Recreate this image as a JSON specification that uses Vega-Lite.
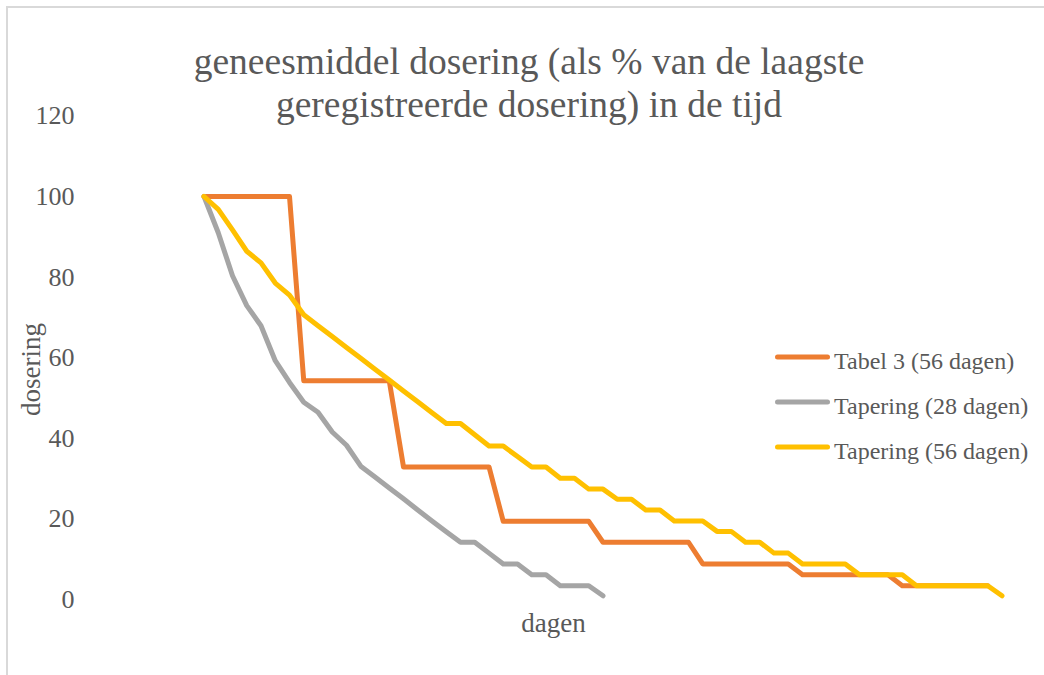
{
  "$schema": "https://vega.github.io/schema/vega-lite/v6.json",
  "width": 1044,
  "height": 675,
  "padding": {"left": 7, "top": 7, "right": 0, "bottom": 0},
  "background": "white",
  "config": {
    "font": "Liberation Serif",
    "view": {"stroke": "#d9d9d9", "strokeWidth": 2}
  },
  "title": {
    "text": ["geneesmiddel dosering (als % van de laagste", "geregistreerde dosering) in de tijd"],
    "fontSize": 37.5,
    "lineHeight": 43,
    "fontWeight": "normal",
    "color": "#595959",
    "font": "Liberation Serif",
    "anchor": "middle",
    "frame": "group",
    "baseline": "alphabetic",
    "offset": -147
  },
  "data": {
    "values": [
      {"dag": 0, "reeks": "Tabel 3 (56 dagen)", "dosering": 100},
      {"dag": 1, "reeks": "Tabel 3 (56 dagen)", "dosering": 100},
      {"dag": 2, "reeks": "Tabel 3 (56 dagen)", "dosering": 100},
      {"dag": 3, "reeks": "Tabel 3 (56 dagen)", "dosering": 100},
      {"dag": 4, "reeks": "Tabel 3 (56 dagen)", "dosering": 100},
      {"dag": 5, "reeks": "Tabel 3 (56 dagen)", "dosering": 100},
      {"dag": 6, "reeks": "Tabel 3 (56 dagen)", "dosering": 100},
      {"dag": 7, "reeks": "Tabel 3 (56 dagen)", "dosering": 54.2},
      {"dag": 8, "reeks": "Tabel 3 (56 dagen)", "dosering": 54.2},
      {"dag": 9, "reeks": "Tabel 3 (56 dagen)", "dosering": 54.2},
      {"dag": 10, "reeks": "Tabel 3 (56 dagen)", "dosering": 54.2},
      {"dag": 11, "reeks": "Tabel 3 (56 dagen)", "dosering": 54.2},
      {"dag": 12, "reeks": "Tabel 3 (56 dagen)", "dosering": 54.2},
      {"dag": 13, "reeks": "Tabel 3 (56 dagen)", "dosering": 54.2},
      {"dag": 14, "reeks": "Tabel 3 (56 dagen)", "dosering": 32.8},
      {"dag": 15, "reeks": "Tabel 3 (56 dagen)", "dosering": 32.8},
      {"dag": 16, "reeks": "Tabel 3 (56 dagen)", "dosering": 32.8},
      {"dag": 17, "reeks": "Tabel 3 (56 dagen)", "dosering": 32.8},
      {"dag": 18, "reeks": "Tabel 3 (56 dagen)", "dosering": 32.8},
      {"dag": 19, "reeks": "Tabel 3 (56 dagen)", "dosering": 32.8},
      {"dag": 20, "reeks": "Tabel 3 (56 dagen)", "dosering": 32.8},
      {"dag": 21, "reeks": "Tabel 3 (56 dagen)", "dosering": 19.3},
      {"dag": 22, "reeks": "Tabel 3 (56 dagen)", "dosering": 19.3},
      {"dag": 23, "reeks": "Tabel 3 (56 dagen)", "dosering": 19.3},
      {"dag": 24, "reeks": "Tabel 3 (56 dagen)", "dosering": 19.3},
      {"dag": 25, "reeks": "Tabel 3 (56 dagen)", "dosering": 19.3},
      {"dag": 26, "reeks": "Tabel 3 (56 dagen)", "dosering": 19.3},
      {"dag": 27, "reeks": "Tabel 3 (56 dagen)", "dosering": 19.3},
      {"dag": 28, "reeks": "Tabel 3 (56 dagen)", "dosering": 14.1},
      {"dag": 29, "reeks": "Tabel 3 (56 dagen)", "dosering": 14.1},
      {"dag": 30, "reeks": "Tabel 3 (56 dagen)", "dosering": 14.1},
      {"dag": 31, "reeks": "Tabel 3 (56 dagen)", "dosering": 14.1},
      {"dag": 32, "reeks": "Tabel 3 (56 dagen)", "dosering": 14.1},
      {"dag": 33, "reeks": "Tabel 3 (56 dagen)", "dosering": 14.1},
      {"dag": 34, "reeks": "Tabel 3 (56 dagen)", "dosering": 14.1},
      {"dag": 35, "reeks": "Tabel 3 (56 dagen)", "dosering": 8.7},
      {"dag": 36, "reeks": "Tabel 3 (56 dagen)", "dosering": 8.7},
      {"dag": 37, "reeks": "Tabel 3 (56 dagen)", "dosering": 8.7},
      {"dag": 38, "reeks": "Tabel 3 (56 dagen)", "dosering": 8.7},
      {"dag": 39, "reeks": "Tabel 3 (56 dagen)", "dosering": 8.7},
      {"dag": 40, "reeks": "Tabel 3 (56 dagen)", "dosering": 8.7},
      {"dag": 41, "reeks": "Tabel 3 (56 dagen)", "dosering": 8.7},
      {"dag": 42, "reeks": "Tabel 3 (56 dagen)", "dosering": 6},
      {"dag": 43, "reeks": "Tabel 3 (56 dagen)", "dosering": 6},
      {"dag": 44, "reeks": "Tabel 3 (56 dagen)", "dosering": 6},
      {"dag": 45, "reeks": "Tabel 3 (56 dagen)", "dosering": 6},
      {"dag": 46, "reeks": "Tabel 3 (56 dagen)", "dosering": 6},
      {"dag": 47, "reeks": "Tabel 3 (56 dagen)", "dosering": 6},
      {"dag": 48, "reeks": "Tabel 3 (56 dagen)", "dosering": 6},
      {"dag": 49, "reeks": "Tabel 3 (56 dagen)", "dosering": 3.3},
      {"dag": 50, "reeks": "Tabel 3 (56 dagen)", "dosering": 3.3},
      {"dag": 51, "reeks": "Tabel 3 (56 dagen)", "dosering": 3.3},
      {"dag": 52, "reeks": "Tabel 3 (56 dagen)", "dosering": 3.3},
      {"dag": 53, "reeks": "Tabel 3 (56 dagen)", "dosering": 3.3},
      {"dag": 54, "reeks": "Tabel 3 (56 dagen)", "dosering": 3.3},
      {"dag": 55, "reeks": "Tabel 3 (56 dagen)", "dosering": 3.3},
      {"dag": 0, "reeks": "Tapering (28 dagen)", "dosering": 100},
      {"dag": 1, "reeks": "Tapering (28 dagen)", "dosering": 91},
      {"dag": 2, "reeks": "Tapering (28 dagen)", "dosering": 80.3},
      {"dag": 3, "reeks": "Tapering (28 dagen)", "dosering": 72.9},
      {"dag": 4, "reeks": "Tapering (28 dagen)", "dosering": 67.9},
      {"dag": 5, "reeks": "Tapering (28 dagen)", "dosering": 59.2},
      {"dag": 6, "reeks": "Tapering (28 dagen)", "dosering": 53.8},
      {"dag": 7, "reeks": "Tapering (28 dagen)", "dosering": 48.9},
      {"dag": 8, "reeks": "Tapering (28 dagen)", "dosering": 46.4},
      {"dag": 9, "reeks": "Tapering (28 dagen)", "dosering": 41.5},
      {"dag": 10, "reeks": "Tapering (28 dagen)", "dosering": 38.2},
      {"dag": 11, "reeks": "Tapering (28 dagen)", "dosering": 33},
      {"dag": 12, "reeks": "Tapering (28 dagen)", "dosering": 30.3},
      {"dag": 13, "reeks": "Tapering (28 dagen)", "dosering": 27.6},
      {"dag": 14, "reeks": "Tapering (28 dagen)", "dosering": 24.9},
      {"dag": 15, "reeks": "Tapering (28 dagen)", "dosering": 22.1},
      {"dag": 16, "reeks": "Tapering (28 dagen)", "dosering": 19.4},
      {"dag": 17, "reeks": "Tapering (28 dagen)", "dosering": 16.7},
      {"dag": 18, "reeks": "Tapering (28 dagen)", "dosering": 14.1},
      {"dag": 19, "reeks": "Tapering (28 dagen)", "dosering": 14.1},
      {"dag": 20, "reeks": "Tapering (28 dagen)", "dosering": 11.4},
      {"dag": 21, "reeks": "Tapering (28 dagen)", "dosering": 8.7},
      {"dag": 22, "reeks": "Tapering (28 dagen)", "dosering": 8.7},
      {"dag": 23, "reeks": "Tapering (28 dagen)", "dosering": 6},
      {"dag": 24, "reeks": "Tapering (28 dagen)", "dosering": 6},
      {"dag": 25, "reeks": "Tapering (28 dagen)", "dosering": 3.3},
      {"dag": 26, "reeks": "Tapering (28 dagen)", "dosering": 3.3},
      {"dag": 27, "reeks": "Tapering (28 dagen)", "dosering": 3.3},
      {"dag": 28, "reeks": "Tapering (28 dagen)", "dosering": 0.8},
      {"dag": 0, "reeks": "Tapering (56 dagen)", "dosering": 100},
      {"dag": 1, "reeks": "Tapering (56 dagen)", "dosering": 96.8},
      {"dag": 2, "reeks": "Tapering (56 dagen)", "dosering": 91.7},
      {"dag": 3, "reeks": "Tapering (56 dagen)", "dosering": 86.4},
      {"dag": 4, "reeks": "Tapering (56 dagen)", "dosering": 83.5},
      {"dag": 5, "reeks": "Tapering (56 dagen)", "dosering": 78.5},
      {"dag": 6, "reeks": "Tapering (56 dagen)", "dosering": 75.5},
      {"dag": 7, "reeks": "Tapering (56 dagen)", "dosering": 70.6},
      {"dag": 8, "reeks": "Tapering (56 dagen)", "dosering": 67.9},
      {"dag": 9, "reeks": "Tapering (56 dagen)", "dosering": 65.2},
      {"dag": 10, "reeks": "Tapering (56 dagen)", "dosering": 62.5},
      {"dag": 11, "reeks": "Tapering (56 dagen)", "dosering": 59.8},
      {"dag": 12, "reeks": "Tapering (56 dagen)", "dosering": 57.1},
      {"dag": 13, "reeks": "Tapering (56 dagen)", "dosering": 54.4},
      {"dag": 14, "reeks": "Tapering (56 dagen)", "dosering": 51.7},
      {"dag": 15, "reeks": "Tapering (56 dagen)", "dosering": 49},
      {"dag": 16, "reeks": "Tapering (56 dagen)", "dosering": 46.3},
      {"dag": 17, "reeks": "Tapering (56 dagen)", "dosering": 43.6},
      {"dag": 18, "reeks": "Tapering (56 dagen)", "dosering": 43.6},
      {"dag": 19, "reeks": "Tapering (56 dagen)", "dosering": 40.8},
      {"dag": 20, "reeks": "Tapering (56 dagen)", "dosering": 38},
      {"dag": 21, "reeks": "Tapering (56 dagen)", "dosering": 38},
      {"dag": 22, "reeks": "Tapering (56 dagen)", "dosering": 35.4},
      {"dag": 23, "reeks": "Tapering (56 dagen)", "dosering": 32.8},
      {"dag": 24, "reeks": "Tapering (56 dagen)", "dosering": 32.8},
      {"dag": 25, "reeks": "Tapering (56 dagen)", "dosering": 30},
      {"dag": 26, "reeks": "Tapering (56 dagen)", "dosering": 30},
      {"dag": 27, "reeks": "Tapering (56 dagen)", "dosering": 27.3},
      {"dag": 28, "reeks": "Tapering (56 dagen)", "dosering": 27.3},
      {"dag": 29, "reeks": "Tapering (56 dagen)", "dosering": 24.8},
      {"dag": 30, "reeks": "Tapering (56 dagen)", "dosering": 24.8},
      {"dag": 31, "reeks": "Tapering (56 dagen)", "dosering": 22.1},
      {"dag": 32, "reeks": "Tapering (56 dagen)", "dosering": 22.1},
      {"dag": 33, "reeks": "Tapering (56 dagen)", "dosering": 19.4},
      {"dag": 34, "reeks": "Tapering (56 dagen)", "dosering": 19.4},
      {"dag": 35, "reeks": "Tapering (56 dagen)", "dosering": 19.4},
      {"dag": 36, "reeks": "Tapering (56 dagen)", "dosering": 16.8},
      {"dag": 37, "reeks": "Tapering (56 dagen)", "dosering": 16.8},
      {"dag": 38, "reeks": "Tapering (56 dagen)", "dosering": 14.1},
      {"dag": 39, "reeks": "Tapering (56 dagen)", "dosering": 14.1},
      {"dag": 40, "reeks": "Tapering (56 dagen)", "dosering": 11.4},
      {"dag": 41, "reeks": "Tapering (56 dagen)", "dosering": 11.4},
      {"dag": 42, "reeks": "Tapering (56 dagen)", "dosering": 8.7},
      {"dag": 43, "reeks": "Tapering (56 dagen)", "dosering": 8.7},
      {"dag": 44, "reeks": "Tapering (56 dagen)", "dosering": 8.7},
      {"dag": 45, "reeks": "Tapering (56 dagen)", "dosering": 8.7},
      {"dag": 46, "reeks": "Tapering (56 dagen)", "dosering": 6},
      {"dag": 47, "reeks": "Tapering (56 dagen)", "dosering": 6},
      {"dag": 48, "reeks": "Tapering (56 dagen)", "dosering": 6},
      {"dag": 49, "reeks": "Tapering (56 dagen)", "dosering": 6},
      {"dag": 50, "reeks": "Tapering (56 dagen)", "dosering": 3.3},
      {"dag": 51, "reeks": "Tapering (56 dagen)", "dosering": 3.3},
      {"dag": 52, "reeks": "Tapering (56 dagen)", "dosering": 3.3},
      {"dag": 53, "reeks": "Tapering (56 dagen)", "dosering": 3.3},
      {"dag": 54, "reeks": "Tapering (56 dagen)", "dosering": 3.3},
      {"dag": 55, "reeks": "Tapering (56 dagen)", "dosering": 3.3},
      {"dag": 56, "reeks": "Tapering (56 dagen)", "dosering": 0.8}
    ]
  },
  "mark": {"type": "line", "strokeWidth": 5, "strokeCap": "round", "strokeJoin": "round"},
  "encoding": {
    "x": {
      "field": "dag",
      "type": "quantitative",
      "scale": {"domain": [-13.825, 59.438], "nice": false, "zero": false},
      "axis": {
        "labels": false, "ticks": false, "domain": false, "grid": false,
        "title": "dagen",
        "titleFontSize": 27, "titleFontWeight": "normal", "titleColor": "#595959",
        "titleX": 546, "titleY": -51, "titleAlign": "center", "titleBaseline": "alphabetic"
      }
    },
    "y": {
      "field": "dosering",
      "type": "quantitative",
      "scale": {"domain": [-20.62, 147.08], "nice": false, "zero": false},
      "axis": {
        "values": [0, 20, 40, 60, 80, 100, 120],
        "offset": -69,
        "labelPadding": 2,
        "ticks": false, "domain": false, "grid": false,
        "labelFontSize": 26, "labelColor": "#595959",
        "title": "dosering",
        "titleFontSize": 27, "titleFontWeight": "normal", "titleColor": "#595959",
        "titleX": -37, "titleY": 362, "titleAlign": "center", "titleBaseline": "alphabetic", "titleAngle": -90
      }
    },
    "color": {
      "field": "reeks",
      "type": "nominal",
      "scale": {
        "domain": ["Tabel 3 (56 dagen)", "Tapering (28 dagen)", "Tapering (56 dagen)"],
        "range": ["#ED7D31", "#A5A5A5", "#FFC000"]
      },
      "legend": {
        "title": null,
        "orient": "none",
        "legendX": 768,
        "legendY": 322.5,
        "padding": 0,
        "symbolType": "stroke",
        "symbolSize": 2500,
        "symbolStrokeWidth": 5,
        "labelFontSize": 24,
        "labelColor": "#595959",
        "labelLimit": 0,
        "rowPadding": -5.5,
        "encode": {
          "symbols": {"update": {"strokeCap": {"value": "round"}}},
          "labels": {"update": {"dy": {"value": 5}}}
        }
      }
    }
  }
}
